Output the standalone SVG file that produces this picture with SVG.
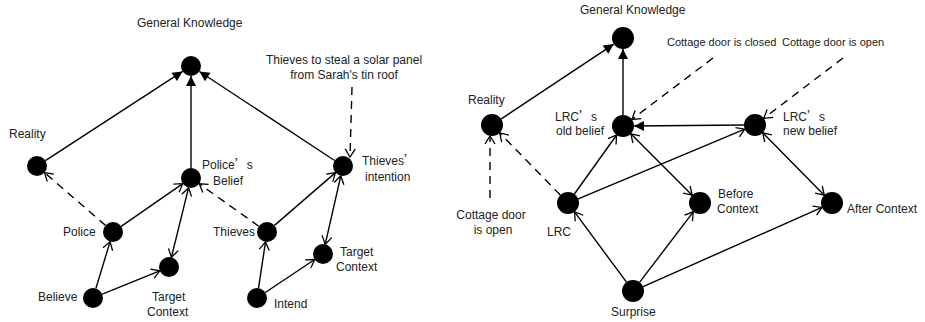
<svg xmlns="http://www.w3.org/2000/svg" width="925" height="322" viewBox="0 0 925 322">
<style>
text{font-family:"Liberation Sans",Arial,sans-serif;font-size:12px;fill:#222}
.s{font-size:11px}
.cj{font-family:"Noto Sans CJK SC",sans-serif}
.n{fill:#000}
.e{stroke:#000;stroke-width:1.4;fill:none}
.d{stroke:#000;stroke-width:1.4;fill:none;stroke-dasharray:8 6}
.o{marker-end:url(#open)}
.b{marker-start:url(#open);marker-end:url(#open)}
.f{marker-end:url(#fill)}
</style>
<defs>
<marker id="open" viewBox="-10 -6 12 12" refX="0" refY="0" markerWidth="12" markerHeight="12" markerUnits="userSpaceOnUse" orient="auto-start-reverse">
<path d="M-8,-5 L0,0 L-8,5" fill="none" stroke="#000" stroke-width="1.3"/>
</marker>
<marker id="fill" viewBox="-11 -6 12 12" refX="0" refY="0" markerWidth="12" markerHeight="12" markerUnits="userSpaceOnUse" orient="auto">
<path d="M-10,-5 L0,0 L-10,5 Z" fill="#000"/>
</marker>
</defs>
<g id="connectors">
<!-- left -->
<line class="e f" x1="45.4" y1="160.6" x2="182.6" y2="71.4"/>
<line class="e f" x1="191" y1="168" x2="191" y2="76"/>
<line class="e f" x1="334.6" y1="160.5" x2="199.4" y2="71.5"/>
<line class="d o" x1="105.5" y1="225.4" x2="44.5" y2="172.6"/>
<line class="e o" x1="121.2" y1="226.3" x2="182.8" y2="183.7"/>
<line class="e o" x1="95.9" y1="288.4" x2="110.1" y2="241.6"/>
<line class="e o" x1="102.3" y1="294.2" x2="159.7" y2="270.8"/>
<line class="e b" x1="188.6" y1="187.7" x2="171.4" y2="257.3"/>
<line class="d o" x1="258.8" y1="226.2" x2="199.2" y2="183.8"/>
<line class="e o" x1="274.5" y1="225.4" x2="335.5" y2="172.6"/>
<line class="e b" x1="340.8" y1="175.8" x2="325.2" y2="244.3"/>
<line class="e o" x1="258.5" y1="288.1" x2="265.5" y2="241.9"/>
<line class="e o" x1="265.3" y1="292.5" x2="314.7" y2="259.5"/>
<line class="d o" x1="352" y1="87" x2="350" y2="157"/>
<!-- right -->
<line class="e f" x1="501.2" y1="118.9" x2="613.8" y2="44.1"/>
<line class="e f" x1="623" y1="115" x2="623" y2="49"/>
<line class="e f" x1="744" y1="125" x2="634" y2="126"/>
<line class="d o" x1="713" y1="58" x2="631.8" y2="119.4"/>
<line class="d o" x1="843" y1="58" x2="763.8" y2="118.3"/>
<line class="d o" x1="490" y1="198" x2="490" y2="136"/>
<line class="d o" x1="560.3" y1="195.1" x2="499.7" y2="132.9"/>
<line class="e o" x1="574.4" y1="194" x2="616.6" y2="135"/>
<line class="e o" x1="578.2" y1="198.8" x2="744.8" y2="129.2"/>
<line class="e b" x1="630.8" y1="133.8" x2="692.2" y2="195.2"/>
<line class="e b" x1="762.7" y1="132.8" x2="824.3" y2="195.2"/>
<line class="e o" x1="626.5" y1="282.2" x2="574.5" y2="211.8"/>
<line class="e o" x1="639.7" y1="282.2" x2="693.3" y2="211.8"/>
<line class="e o" x1="643.1" y1="286.6" x2="821.9" y2="207.4"/>
</g>
<g id="left-gk"><circle class="n" cx="191" cy="66" r="10"/><text x="137" y="27">General Knowledge</text></g>
<g id="left-note"><text x="344" y="64" text-anchor="middle">Thieves to steal a solar panel</text><text x="344" y="79" text-anchor="middle">from Sarah's tin roof</text></g>
<g id="left-reality"><circle class="n" cx="37" cy="166" r="10"/><text x="9" y="138">Reality</text></g>
<g id="police-belief"><circle class="n" cx="191" cy="178" r="10"/><text x="202" y="169">Police<tspan class="cj">’</tspan>s</text><text x="213" y="185">Belief</text></g>
<g id="thieves-intention"><circle class="n" cx="343" cy="166" r="10"/><text x="362" y="165">Thieves<tspan class="cj">’</tspan></text><text x="365" y="181">intention</text></g>
<g id="police"><circle class="n" cx="113" cy="232" r="10"/><text x="63" y="236">Police</text></g>
<g id="thieves"><circle class="n" cx="267" cy="232" r="10"/><text x="213" y="236">Thieves</text></g>
<g id="target-context-1"><circle class="n" cx="169" cy="267" r="10"/><text x="152" y="301">Target</text><text x="147" y="316">Context</text></g>
<g id="target-context-2"><circle class="n" cx="323" cy="254" r="10"/><text x="340" y="256">Target</text><text x="336" y="271">Context</text></g>
<g id="believe"><circle class="n" cx="93" cy="298" r="10"/><text x="38" y="301">Believe</text></g>
<g id="intend"><circle class="n" cx="257" cy="298" r="10"/><text x="274" y="308">Intend</text></g>
<g id="right-gk"><circle class="n" cx="623" cy="38" r="11"/><text x="580" y="14">General Knowledge</text></g>
<g id="note-closed"><text class="s" x="667" y="46">Cottage door is closed</text></g>
<g id="note-open"><text class="s" x="782" y="46">Cottage door is open</text></g>
<g id="right-reality"><circle class="n" cx="492" cy="125" r="11"/><text x="468" y="104">Reality</text></g>
<g id="old-belief"><circle class="n" cx="623" cy="126" r="11"/><text x="555" y="121">LRC<tspan class="cj">’</tspan>s</text><text x="556" y="135">old belief</text></g>
<g id="new-belief"><circle class="n" cx="755" cy="125" r="11"/><text x="783" y="121">LRC<tspan class="cj">’</tspan>s</text><text x="783" y="135">new belief</text></g>
<g id="lrc"><circle class="n" cx="568" cy="203" r="11"/><text x="547" y="236">LRC</text></g>
<g id="before-context"><circle class="n" cx="700" cy="203" r="11"/><text x="718" y="198">Before</text><text x="717" y="213">Context</text></g>
<g id="after-context"><circle class="n" cx="832" cy="203" r="11"/><text x="847" y="213">After Context</text></g>
<g id="note-open-2"><text x="491" y="219" text-anchor="middle">Cottage door</text><text x="493" y="234" text-anchor="middle">is open</text></g>
<g id="surprise"><circle class="n" cx="633" cy="291" r="11"/><text x="611" y="316">Surprise</text></g>
</svg>
